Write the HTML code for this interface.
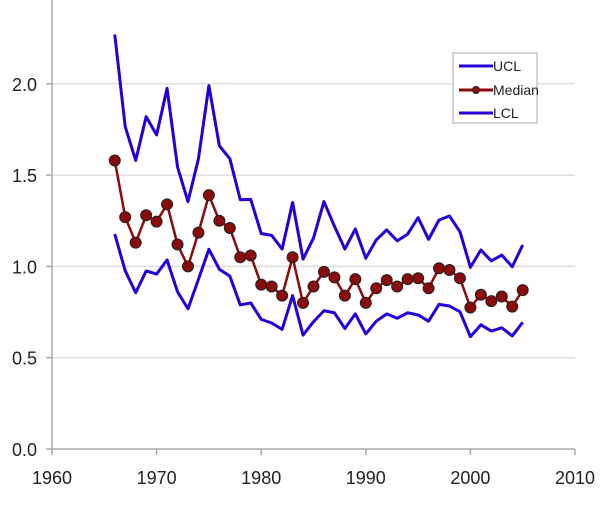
<!DOCTYPE html>
<html><head><meta charset="utf-8"><style>
body{margin:0;background:#fff;}
svg text{font-family:"Liberation Sans",Arial,sans-serif;fill:#222;}
</style></head><body>
<svg id="chart" width="600" height="513" xmlns="http://www.w3.org/2000/svg">
<g id="grid"></g><g id="axes"></g><g id="series"></g>
<g>
<rect x="453" y="53" width="84" height="70" fill="#fff" stroke="#aaa" stroke-width="1"/>
<line x1="459" y1="66" x2="493" y2="66" stroke="#2200dd" stroke-width="3"/>
<text x="493" y="71" font-size="14">UCL</text>
<line x1="459" y1="90" x2="493" y2="90" stroke="#8b0a0a" stroke-width="3"/>
<circle cx="476" cy="90" r="3.5" fill="#8b0a0a" stroke="#222"/>
<text x="493" y="95" font-size="14">Median</text>
<line x1="459" y1="113" x2="493" y2="113" stroke="#2200dd" stroke-width="3"/>
<text x="493" y="118" font-size="14">LCL</text>
</g>
</svg>
<script>
const years=[1966,1967,1968,1969,1970,1971,1972,1973,1974,1975,1976,1977,1978,1979,1980,1981,1982,1983,1984,1985,1986,1987,1988,1989,1990,1991,1992,1993,1994,1995,1996,1997,1998,1999,2000,2001,2002,2003,2004,2005];
const ucl=[2.27,1.765,1.58,1.82,1.72,1.975,1.545,1.355,1.59,1.99,1.66,1.59,1.365,1.367,1.18,1.17,1.095,1.35,1.04,1.155,1.355,1.22,1.095,1.205,1.045,1.145,1.2,1.14,1.177,1.267,1.148,1.254,1.276,1.19,0.995,1.09,1.03,1.062,0.998,1.117];
const median=[1.58,1.27,1.13,1.28,1.245,1.34,1.12,1.0,1.185,1.39,1.25,1.21,1.05,1.06,0.9,0.89,0.84,1.05,0.8,0.89,0.97,0.94,0.84,0.93,0.8,0.88,0.925,0.89,0.93,0.935,0.88,0.99,0.98,0.935,0.775,0.845,0.81,0.835,0.78,0.87];
const lcl=[1.177,0.976,0.856,0.975,0.958,1.035,0.861,0.768,0.929,1.094,0.984,0.947,0.789,0.8,0.71,0.69,0.655,0.84,0.624,0.697,0.757,0.746,0.66,0.74,0.63,0.7,0.74,0.716,0.746,0.734,0.7,0.792,0.783,0.752,0.615,0.68,0.646,0.664,0.619,0.694];
const xTicks=[1960,1970,1980,1990,2000,2010];
const yTicks=[0,0.5,1,1.5,2];
const NS="http://www.w3.org/2000/svg";
const X=v=>52+(v-1960)*(575-52)/50;
const Y=v=>449-v*182.6;
function mk(tag,attrs,parent){const e=document.createElementNS(NS,tag);for(const k in attrs)e.setAttribute(k,attrs[k]);parent.appendChild(e);return e;}
const grid=document.getElementById('grid'),axes=document.getElementById('axes'),ser=document.getElementById('series');
yTicks.forEach(t=>{
 if(t>0){const g=mk('line',{x1:52,x2:575,y1:Y(t),y2:Y(t),stroke:'#ddd','stroke-width':1.5},grid);
 
 }
 mk('line',{x1:46,x2:52,y1:Y(t),y2:Y(t),stroke:'#aaa','stroke-width':1.5},axes);
 const tx=mk('text',{x:37,y:Y(t)+7,'font-size':18,'text-anchor':'end'},axes);tx.textContent=t.toFixed(1);
 
 
});
xTicks.forEach(t=>{
 mk('line',{x1:X(t),x2:X(t),y1:449,y2:455,stroke:'#aaa','stroke-width':1.5},axes);
 const tx=mk('text',{x:X(t),y:484,'font-size':18,'text-anchor':'middle'},axes);tx.textContent=t;
 
 
});
const ya=mk('line',{x1:52,x2:52,y1:0,y2:449,stroke:'#aaa','stroke-width':1.5},axes);


const xa=mk('line',{x1:52,x2:575,y1:449,y2:449,stroke:'#aaa','stroke-width':1.5},axes);


function pts(arr){return arr.map((v,i)=>X(years[i])+','+Y(v)).join(' ');}
const u=mk('polyline',{points:pts(ucl),fill:'none',stroke:'#2200dd','stroke-width':3,'stroke-linejoin':'round'},ser);


const l=mk('polyline',{points:pts(lcl),fill:'none',stroke:'#2200dd','stroke-width':3,'stroke-linejoin':'round'},ser);


const m=mk('polyline',{points:pts(median),fill:'none',stroke:'#8b0a0a','stroke-width':2.5},ser);


median.forEach((v,i)=>{
 const c=mk('circle',{cx:X(years[i]),cy:Y(v),r:5.5,fill:'#8b0a0a',stroke:'#222','stroke-width':1},ser);
 
 
});
</script>
</body></html>
